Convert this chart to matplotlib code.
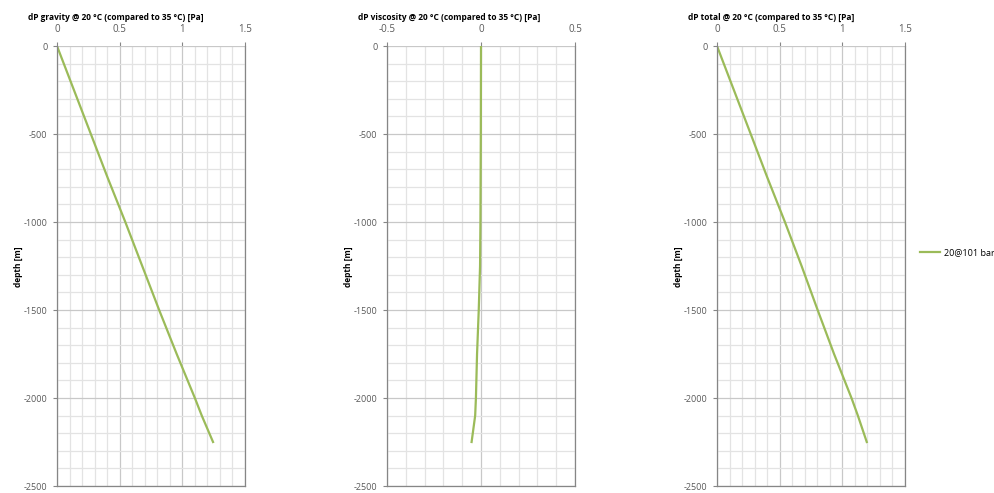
import matplotlib.pyplot as plt
import numpy as np
from matplotlib.lines import Line2D
from matplotlib.ticker import MultipleLocator

# %% Style
LINE_COLOR = "#9BBB59"
AXIS_COLOR = "#868686"
MAJOR_GRID = "#c8c8c8"
MINOR_GRID = "#e3e3e3"
TICK_TEXT = "#595959"

plt.rcParams.update(
    {
        "font.family": ["Open Sans", "DejaVu Sans"],
        "font.size": 6.5,
    }
)

# %% Data
depth = [0, -250, -500, -750, -1000, -1250, -1500, -1750, -2000, -2100, -2250]
dp_gravity = [0, 0.135, 0.27, 0.405, 0.545, 0.68, 0.815, 0.955, 1.10, 1.155, 1.245]
dp_viscosity = [0, -0.0005, -0.001, -0.002, -0.003, -0.005, -0.012, -0.021, -0.027, -0.031, -0.05]
dp_total = [0, 0.1345, 0.269, 0.403, 0.542, 0.675, 0.803, 0.934, 1.073, 1.124, 1.195]

series_label = "20@101 bar"
titles = [
    "dP gravity @ 20 °C (compared to 35 °C) [Pa]",
    "dP viscosity @ 20 °C (compared to 35 °C) [Pa]",
    "dP total @ 20 °C (compared to 35 °C) [Pa]",
]
x_ranges = [(0, 1.5), (-0.5, 0.5), (0, 1.5)]
x_ticks = [[0, 0.5, 1, 1.5], [-0.5, 0, 0.5], [0, 0.5, 1, 1.5]]
x_tick_labels = [["0", "0.5", "1", "1.5"], ["-0.5", "0", "0.5"], ["0", "0.5", "1", "1.5"]]
y_ticks = [0, -500, -1000, -1500, -2000, -2500]

# %% Plot
W, H = 995, 493
fig = plt.figure(figsize=(W / 100, H / 100), dpi=100)

lefts = [57, 387, 717]
ax_w, ax_top, ax_bottom = 188, 46, 486

for i, (xs, left) in enumerate(zip([dp_gravity, dp_viscosity, dp_total], lefts)):
    ax = fig.add_axes(
        [left / W, 1 - ax_bottom / H, ax_w / W, (ax_bottom - ax_top) / H]
    )
    ax.set_xlim(*x_ranges[i])
    ax.set_ylim(-2500, 0)

    ax.xaxis.tick_top()
    ax.set_xticks(x_ticks[i])
    ax.set_xticklabels(x_tick_labels[i])
    ax.xaxis.set_minor_locator(MultipleLocator(0.1))
    ax.set_yticks(y_ticks)
    ax.set_yticklabels([str(v) for v in y_ticks])
    ax.yaxis.set_minor_locator(MultipleLocator(100))

    ax.tick_params(which="major", axis="x", length=3, width=0.8, color=AXIS_COLOR,
                   labelcolor=TICK_TEXT, labelsize=7, pad=5)
    ax.tick_params(which="major", axis="y", length=3, width=0.8, color=AXIS_COLOR,
                   labelcolor=TICK_TEXT, labelsize=6.5, pad=4)
    ax.tick_params(which="minor", length=0)

    ax.grid(True, which="major", color=MAJOR_GRID, linewidth=0.9)
    ax.grid(True, which="minor", color=MINOR_GRID, linewidth=0.9)
    ax.set_axisbelow(True)

    for side in ["left", "bottom", "right"]:
        ax.spines[side].set_color(AXIS_COLOR)
        ax.spines[side].set_linewidth(0.9)
    ax.spines["top"].set_visible(False)

    ax.plot(xs, depth, color=LINE_COLOR, linewidth=1.6, label=series_label)

    # axis title and depth label sit outside the tick labels
    fig.text((left - 39) / W, 1 - 267 / H, "depth [m]", fontweight="bold",
             fontsize=6, rotation=90, ha="center", va="center")
    fig.text((left - 29) / W, 1 - 17 / H, titles[i], fontweight="bold",
             fontsize=6, ha="left", va="center")

handle = Line2D([], [], color=LINE_COLOR, linewidth=1.6)
fig.legend([handle], [series_label], loc="center left",
           bbox_to_anchor=(912 / W, 1 - 253 / H), frameon=False,
           handlelength=2.2, handletextpad=0.4, fontsize=6.5)

fig.savefig("out.png", dpi=100)
